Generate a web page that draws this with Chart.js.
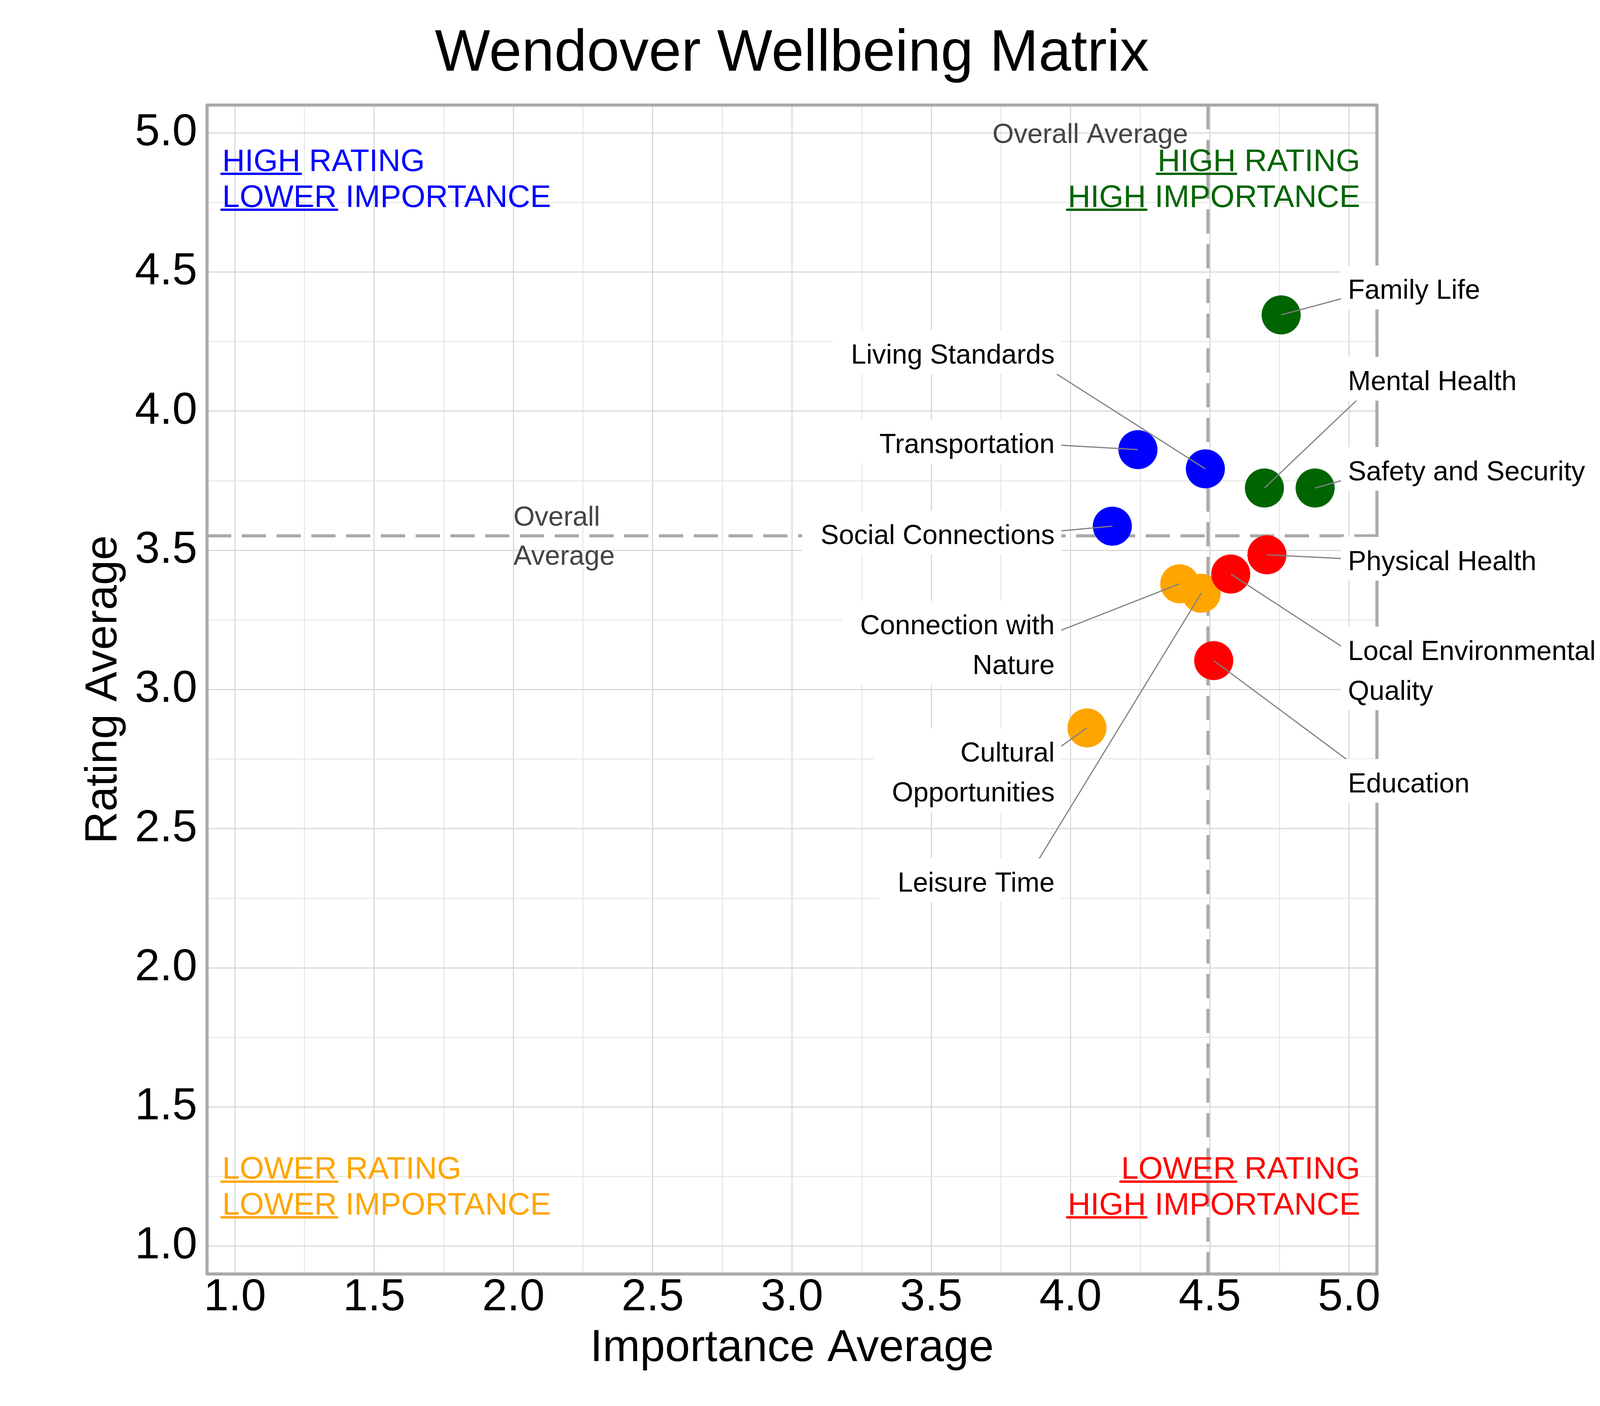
<!DOCTYPE html>
<html>
<head>
<meta charset="utf-8">
<title>Wendover Wellbeing Matrix</title>
<script src="https://cdn.jsdelivr.net/npm/chart.js@4.4.1/dist/chart.umd.min.js"></script>
<style>
  html, body { margin: 0; padding: 0; background: #ffffff; }
  #wrap { width: 4200px; height: 3600px; }
</style>
</head>
<body>
<div id="wrap"><canvas id="matrixChart" width="4200" height="3600"></canvas></div>
<script>
// values (draw order: later points sit on top)
const categories = [
    'Family Life', 'Mental Health', 'Safety and Security',
    'Transportation', 'Living Standards', 'Social Connections',
    'Cultural Opportunities', 'Connection with Nature', 'Leisure Time',
    'Education', 'Physical Health', 'Local Environmental Quality'
];
const importance = [4.756, 4.696, 4.878, 4.242, 4.484, 4.150, 4.059, 4.392, 4.469, 4.514, 4.705, 4.575];
const rating     = [4.346, 3.724, 3.724, 3.862, 3.793, 3.587, 2.862, 3.380, 3.346, 3.104, 3.484, 3.415];
const tickLabels = ['1.0', '1.5', '2.0', '2.5', '3.0', '3.5', '4.0', '4.5', '5.0'];

// where the name tags sit (data units), and how long names wrap
const rightTagX = 4.996;   // left edge of text on the right side
const leftTagX = 3.943;    // right edge of text on the left side
const tagSpots = {
    'Family Life':                 { side: 'right', y: 4.439 },
    'Mental Health':               { side: 'right', y: 4.111 },
    'Safety and Security':         { side: 'right', y: 3.787 },
    'Physical Health':             { side: 'right', y: 3.464 },
    'Local Environmental Quality': { side: 'right', y: 3.070 },
    'Education':                   { side: 'right', y: 2.666 },
    'Living Standards':            { side: 'left',  y: 4.206 },
    'Transportation':              { side: 'left',  y: 3.885 },
    'Social Connections':          { side: 'left',  y: 3.558 },
    'Connection with Nature':      { side: 'left',  y: 3.162 },
    'Cultural Opportunities':      { side: 'left',  y: 2.704 },
    'Leisure Time':                { side: 'left',  y: 2.309 }
};
const tagLines = {
    'Local Environmental Quality': ['Local Environmental', 'Quality'],
    'Connection with Nature': ['Connection with', 'Nature'],
    'Cultural Opportunities': ['Cultural', 'Opportunities']
};

const FONT = '"Liberation Sans", Arial, Helvetica, sans-serif';
const GREEN = '#006400', BLUE = '#0000ff', RED = '#ff0000', ORANGE = '#ffa500';

const mean = arr => arr.reduce((a, b) => a + b, 0) / arr.length;
const avgImportance = mean(importance);
const avgRating = mean(rating);

function quadrantColour(x, y) {
    if (y >= avgRating) return x >= avgImportance ? GREEN : BLUE;
    return x >= avgImportance ? RED : ORANGE;
}

const quadrantNotes = [
    { corner: 'tl', colour: BLUE,   lines: [['HIGH', ' RATING'], ['LOWER', ' IMPORTANCE']] },
    { corner: 'tr', colour: GREEN,  lines: [['HIGH', ' RATING'], ['HIGH', ' IMPORTANCE']] },
    { corner: 'bl', colour: ORANGE, lines: [['LOWER', ' RATING'], ['LOWER', ' IMPORTANCE']] },
    { corner: 'br', colour: RED,    lines: [['LOWER', ' RATING'], ['HIGH', ' IMPORTANCE']] }
];

const isMajor = v => Math.abs(v * 2 - Math.round(v * 2)) < 1e-6;

// frame round the plot and the two average lines
const framePlugin = {
    id: 'frame',
    beforeDatasetsDraw(chart) {
        const { ctx, chartArea: a, scales: { x, y } } = chart;
        ctx.save();
        ctx.strokeStyle = '#aaaaaa';
        ctx.lineWidth = 8;
        ctx.lineJoin = 'round';
        ctx.strokeRect(a.left, a.top, a.right - a.left, a.bottom - a.top);

        const ax = x.getPixelForValue(avgImportance);
        const ay = y.getPixelForValue(avgRating);
        ctx.setLineDash([62, 27]);
        ctx.beginPath();
        ctx.moveTo(ax, a.top);
        ctx.lineTo(ax, a.bottom);
        ctx.stroke();
        ctx.beginPath();
        ctx.moveTo(a.left, ay);
        ctx.lineTo(a.right, ay);
        ctx.stroke();
        ctx.restore();
    }
};

// notes, quadrant captions and name tags with leader lines
const notesPlugin = {
    id: 'notes',
    afterDatasetsDraw(chart) {
        const { ctx, chartArea: a, scales: { x, y } } = chart;
        const ax = x.getPixelForValue(avgImportance);
        const ay = y.getPixelForValue(avgRating);
        ctx.save();

        // "Overall Average" notes
        ctx.font = '70px ' + FONT;
        ctx.fillStyle = '#444444';
        ctx.textBaseline = 'alphabetic';
        ctx.textAlign = 'right';
        ctx.fillText('Overall Average', ax - 51, a.top + 97);
        ctx.textAlign = 'left';
        ctx.fillText('Overall', x.getPixelForValue(2.0), ay - 26);
        ctx.fillText('Average', x.getPixelForValue(2.0), ay + 74);

        // quadrant captions, first word underlined
        ctx.font = '80px ' + FONT;
        ctx.textAlign = 'left';
        quadrantNotes.forEach(q => {
            const top = q.corner[0] === 't';
            const left = q.corner[1] === 'l';
            const bases = top ? [a.top + 168.5, a.top + 260.5] : [a.bottom - 244, a.bottom - 152.5];
            q.lines.forEach((parts, k) => {
                const wordW = ctx.measureText(parts[0]).width;
                const fullW = ctx.measureText(parts[0] + parts[1]).width;
                const x0 = left ? a.left + 39 : a.right - 43 - fullW;
                const base = bases[k];
                ctx.fillStyle = q.colour;
                ctx.fillText(parts[0] + parts[1], x0, base);
                ctx.strokeStyle = q.colour;
                ctx.lineWidth = 6;
                ctx.lineCap = 'round';
                ctx.beginPath();
                ctx.moveTo(x0 - 2, base + 7.5);
                ctx.lineTo(x0 + wordW + 1, base + 7.5);
                ctx.stroke();
            });
        });

        // name tags
        ctx.font = '70px ' + FONT;
        const lineGap = 102;
        const tags = categories.map((name, i) => {
            const spot = tagSpots[name];
            const lines = tagLines[name] || [name];
            const w = Math.max(...lines.map(l => ctx.measureText(l).width));
            const cy = y.getPixelForValue(spot.y);
            let textLeft, anchorX, boxL, boxR;
            if (spot.side === 'right') {
                textLeft = x.getPixelForValue(rightTagX);
                anchorX = textLeft + 76;
                boxL = textLeft - 18;
                boxR = textLeft + w + 47;
            } else {
                const textRight = x.getPixelForValue(leftTagX);
                textLeft = textRight - w;
                anchorX = textRight - 76;
                boxL = textLeft - 47;
                boxR = textRight + 17;
            }
            return {
                lines, side: spot.side, cy, textLeft, anchorX, boxL, boxR,
                px: x.getPixelForValue(importance[i]),
                py: y.getPixelForValue(rating[i]),
                textRight: textLeft + w
            };
        });

        ctx.strokeStyle = '#808080';
        ctx.lineWidth = 3;
        ctx.lineCap = 'butt';
        tags.forEach(t => {
            ctx.beginPath();
            ctx.moveTo(t.anchorX, t.cy);
            ctx.lineTo(t.px, t.py);
            ctx.stroke();
        });

        tags.forEach(t => {
            const n = t.lines.length;
            const h = n * lineGap + 10;
            ctx.fillStyle = '#ffffff';
            ctx.fillRect(t.boxL, t.cy - h / 2 - 4, t.boxR - t.boxL, h);
            ctx.fillStyle = '#000000';
            ctx.textAlign = t.side === 'right' ? 'left' : 'right';
            const tx = t.side === 'right' ? t.textLeft : t.textRight;
            t.lines.forEach((line, k) => {
                const lc = t.cy + (k - (n - 1) / 2) * lineGap;
                ctx.fillText(line, tx, lc + 25);
            });
        });

        ctx.restore();
    }
};

Chart.defaults.font.family = FONT;
Chart.defaults.color = '#000000';

const gridStyle = {
    drawTicks: false,
    color: c => (c.tick && isMajor(c.tick.value)) ? '#d9d9d9' : '#e6e6e6',
    lineWidth: c => (c.tick && isMajor(c.tick.value)) ? 3 : 2.5
};
const tickText = v => {
    const s = Number(v).toFixed(1);
    return (isMajor(v) && tickLabels.includes(s)) ? s : '';
};

const ctx = document.getElementById('matrixChart').getContext('2d');
const matrixChart = new Chart(ctx, {
    type: 'scatter',
    data: {
        datasets: [{
            label: 'Wellbeing',
            data: categories.map((c, i) => ({ x: importance[i], y: rating[i] })),
            backgroundColor: categories.map((c, i) => quadrantColour(importance[i], rating[i])),
            borderWidth: 0,
            pointRadius: 50,
            pointHoverRadius: 50
        }]
    },
    options: {
        responsive: false,
        animation: false,
        devicePixelRatio: 1,
        events: [],
        layout: { padding: { left: 0, right: 675, top: 0, bottom: 0 } },
        scales: {
            x: {
                type: 'linear',
                min: 0.9,
                max: 5.1,
                grid: gridStyle,
                border: { display: false },
                ticks: {
                    stepSize: 0.25,
                    includeBounds: false,
                    autoSkip: false,
                    maxRotation: 0,
                    padding: 4,
                    font: { size: 115, lineHeight: 1 },
                    callback: tickText
                },
                title: {
                    display: true,
                    text: 'Importance Average',
                    font: { size: 115 },
                    padding: { top: 0, bottom: 78 }
                },
                afterFit: s => { s.height = 338; }
            },
            y: {
                type: 'linear',
                min: 0.9,
                max: 5.1,
                grid: gridStyle,
                border: { display: false },
                ticks: {
                    stepSize: 0.25,
                    includeBounds: false,
                    autoSkip: false,
                    padding: 25,
                    font: { size: 115, lineHeight: 1 },
                    callback: tickText
                },
                title: {
                    display: true,
                    text: 'Rating Average',
                    font: { size: 115 },
                    padding: { top: 197, bottom: 0 }
                },
                afterFit: s => { s.width = 530; }
            }
        },
        plugins: {
            legend: { display: false },
            tooltip: { enabled: false },
            title: {
                display: true,
                text: 'Wendover Wellbeing Matrix',
                fullSize: false,
                color: '#000000',
                font: { size: 150, weight: 'normal' },
                padding: { top: 49.5, bottom: 39.5 }
            }
        }
    },
    plugins: [framePlugin, notesPlugin]
});
</script>
</body>
</html>
